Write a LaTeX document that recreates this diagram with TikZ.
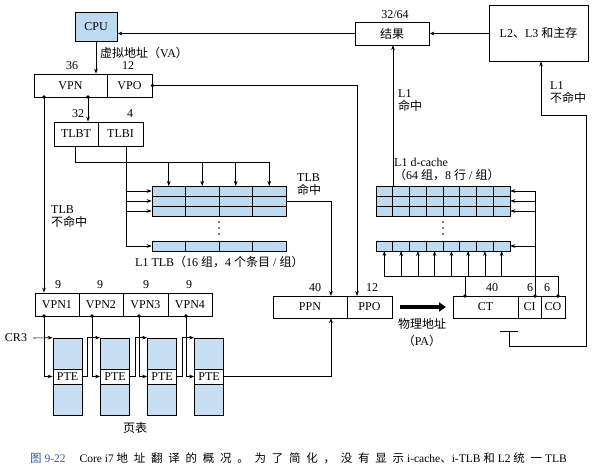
\documentclass[tikz,border=0pt]{standalone}
\usepackage{fontspec}
\setmainfont{Liberation Serif}
\newfontfamily\cjk{Noto Sans CJK SC}
\newfontfamily\cjkcap[LetterSpace=50]{Noto Sans CJK SC}
\newcommand\zh[1]{{\cjk #1}}
\newcommand\zc[1]{{\cjkcap #1}}
\usetikzlibrary{arrows.meta}
\definecolor{cellblue}{RGB}{190,218,240}
\definecolor{ptblue}{RGB}{200,222,242}
\definecolor{capblue}{RGB}{50,90,160}
\begin{document}
\begin{tikzpicture}[x=1pt,y=-1pt,
  font=\fontsize{12}{14}\selectfont,
  box/.style={draw, line width=0.9pt, inner sep=0pt, minimum height=23},
  lbl/.style={inner sep=0pt},
  conn/.style={line width=0.6pt},
  arr/.style={conn, -{Stealth[length=5pt,width=3.6pt]}},
  dotn/.style={circle, fill, inner sep=0pt, minimum size=3.8pt},
  cellrow/.style={draw, line width=0.7pt, fill=cellblue, inner sep=0pt, minimum width=134, minimum height=10},
  ptcol/.style={draw, line width=0.7pt, fill=ptblue, inner sep=0pt, minimum width=29, minimum height=77},
  ptebox/.style={draw, line width=0.7pt, fill=white, inner sep=0pt, minimum width=29, minimum height=15}
]
\useasboundingbox (0,0) rectangle (608,473);

% ---- top boxes
\node[box, fill=cellblue, minimum width=42, minimum height=29] (cpu) at (96,26.5) {CPU};
\node[box, minimum width=74] (res) at (392,33.5) {\zh{结果}};
\node[box, minimum width=99, minimum height=56] (l2) at (538.5,33) {L2\zh{、}L3 \zh{和主存}};
\node[lbl] (n3264) at (395,15) {32/64};

% ---- VPN / VPO
\node[box, minimum width=73] (vpn) at (70.5,85.5) {VPN};
\node[box, minimum width=45] (vpo) at (129.5,85.5) {VPO};
\node[lbl] (n36) at (72,66) {36};
\node[lbl] (n12a) at (128,66) {12};
\node[lbl, anchor=west] (va) at (100,53) {\zh{虚拟地址（}VA\zh{）}};

% ---- TLBT / TLBI
\node[box, minimum width=44, minimum height=24] (tlbt) at (76,134) {TLBT};
\node[box, minimum width=45, minimum height=24] (tlbi) at (120.5,134) {TLBI};
\node[lbl] (n32) at (78,114) {32};
\node[lbl] (n4) at (130,114) {4};

% ---- TLB array
\node[cellrow] (t1) at (219,191) {};
\node[cellrow] (t2) at (219,201) {};
\node[cellrow] (t3) at (219,211) {};
\node[cellrow] (t4) at (219,246) {};
\foreach \x in {185.5,219,252.5} {
  \draw[line width=0.7pt] (\x,186) -- (\x,216);
  \draw[line width=0.7pt] (\x,241) -- (\x,251);
}
\foreach \y in {222,228,234} \fill (219,\y) circle (0.9);
\node[lbl, anchor=west] (tlbcap) at (135,262) {L1 TLB\zh{（}16 \zh{组，}4 \zh{个条目} / \zh{组）}};
\node[lbl, anchor=west, align=left] (tlbhit) at (297,185) {TLB\\[-1pt]\zh{命中}};
\node[lbl, anchor=west, align=left] (tlbmiss) at (51,217) {TLB\\[-1pt]\zh{不命中}};

% ---- d-cache array
\node[cellrow] (c1) at (443,191) {};
\node[cellrow] (c2) at (443,201) {};
\node[cellrow] (c3) at (443,211) {};
\node[cellrow] (c4) at (443,246) {};
\foreach \k in {1,...,7} {
  \draw[line width=0.7pt] (376+16.75*\k,186) -- (376+16.75*\k,216);
  \draw[line width=0.7pt] (376+16.75*\k,241) -- (376+16.75*\k,251);
}
\foreach \y in {222,228,234} \fill (443,\y) circle (0.9);
\node[lbl, anchor=west, align=left] (dcap) at (394,169) {L1 d-cache\\[-1pt]\zh{（}64 \zh{组，}8 \zh{行} / \zh{组）}};
\node[lbl, anchor=west, align=left] (l1hit) at (398,101) {L1\\[-1pt]\zh{命中}};
\node[lbl, anchor=west, align=left] (l1miss) at (550,93) {L1\\[-1pt]\zh{不命中}};

% ---- VPN1..4
\node[box, minimum width=44] (vpn1) at (57,304.5) {VPN1};
\node[box, minimum width=44] (vpn2) at (101,304.5) {VPN2};
\node[box, minimum width=45] (vpn3) at (145.5,304.5) {VPN3};
\node[box, minimum width=44] (vpn4) at (190,304.5) {VPN4};
\node[lbl] (n9a) at (58,285) {9};
\node[lbl] (n9b) at (100,285) {9};
\node[lbl] (n9c) at (146,285) {9};
\node[lbl] (n9d) at (189,285) {9};

% ---- PPN / PPO
\node[box, minimum width=74, minimum height=22] (ppn) at (310,307) {PPN};
\node[box, minimum width=45, minimum height=22] (ppo) at (369.5,307) {PPO};
\node[lbl] (n40a) at (315,288) {40};
\node[lbl] (n12b) at (372,288) {12};

% ---- CT / CI / CO
\node[box, minimum width=65, minimum height=22] (ct) at (485.5,307) {CT};
\node[box, minimum width=23, minimum height=22] (ci) at (529.5,307) {CI};
\node[box, minimum width=24, minimum height=22] (co) at (553,307) {CO};
\node[lbl] (n40b) at (492,288) {40};
\node[lbl] (n6a) at (530,288) {6};
\node[lbl] (n6b) at (547,288) {6};

% ---- physical address arrow
\coordinate (pa1) at (400,307);
\coordinate (pa2) at (446,307);
\draw[line width=4pt, -{Triangle[length=7pt,width=9pt]}] (pa1) -- (pa2);
\node[lbl] (pa) at (422,324) {\zh{物理地址}};
\node[lbl] (pa2t) at (422,341) {\zh{（}PA\zh{）}};

% ---- page tables
\foreach \i/\x in {1/67.5,2/115,3/162,4/209} {
  \node[ptcol] (col\i) at (\x,376.5) {};
  \node[ptebox] (pte\i) at (\x,376.5) {PTE};
}
\node[lbl] (cr3) at (16,338) {CR3};
\node[lbl] (pgt) at (135,428) {\zh{页表}};

% ---- caption
\node[lbl, anchor=west, font=\fontsize{11.5}{12}\selectfont] (cap) at (30,458)
  {\textcolor{capblue}{\zc{图} 9-22}\hspace{14pt}Core i7 \zc{地址翻译的概况。为了简化，没有显示} i-cache\zc{、}i-TLB \zc{和} L2 \zc{统一} TLB};

% ================= connectors
\draw[arr] (res.west) -- (res.west -| cpu.east);
\draw[arr] (l2.west |- res.east) -- (res.east);
\draw[arr] (cpu.south) -- (cpu.south |- vpn.north);

% VPO to PPO
\coordinate (ppoin) at (357,296);
\node[dotn] (dvpo) at (vpo.east) {};
\draw[arr] (dvpo.center) -| (ppoin);

% VPN dots
\node[dotn] (dv1) at (44,97) {};
\node[dotn] (dv2) at (88,97) {};
\draw[arr] (dv1.center) -- (dv1.center |- vpn1.north);
\draw[arr] (dv2.center) -- (dv2.center |- tlbt.north);

% TLBT to TLB tags
\coordinate (tt1) at (75,146);
\coordinate (tt2) at (75,162);
\draw[conn] (tt1) -- (tt2) -- (269.25,162);
\foreach \x in {168.75,202.25,235.75,269.25}
  \draw[arr] (\x,162) -- (\x,186);

% TLBI to TLB sets
\coordinate (ti1) at (126,146);
\draw[conn] (ti1) -- (126,246);
\draw[arr] (126,191) -- (t1.west);
\draw[arr] (126,201) -- (t2.west);
\draw[arr] (126,211) -- (t3.west);
\draw[arr] (126,246) -- (t4.west);

% TLB hit to PPN
\coordinate (ppnin) at (331,296);
\draw[arr] (t2.east) -| (ppnin);

% L1 hit
\draw[arr] (c1.north -| 393,0) -- (393,45);

% CI to d-cache sets
\node[dotn] (dci) at (535,296) {};
\draw[conn] (dci.center) -- (535,191);
\draw[arr] (535,191) -- (c1.east);
\draw[arr] (535,201) -- (c2.east);
\draw[arr] (535,211) -- (c3.east);
\draw[arr] (535,246) -- (c4.east);

% CT / CO to comparators
\node[dotn] (dct) at (465,296) {};
\node[dotn] (dco) at (558,296) {};
\draw[conn] (dct.center) -- (465,276);
\draw[conn] (dco.center) -- (558,276) -- (384.4,276);
\foreach \k in {0,...,7}
  \draw[arr] (384.4+16.75*\k,276) -- (384.4+16.75*\k,251);

% L1 miss
\coordinate (tb1) at (500,331);
\coordinate (tb2) at (518,331);
\draw[conn] (tb1) -- (tb2);
\draw[arr] (509,331) -- (509,346) -- (586,346) -- (586,115) -- (541,115) -- (l2.south -| 541,0);

% page table walk
\draw[arr] (cr3.east) ++(6,0) -- (col1.north west);
\foreach \i/\x in {1/44,2/92,3/139,4/186} {
  \node[dotn] (dp\i) at (\x,316) {};
  \draw[arr] (dp\i.center) |- (pte\i.west);
}
\foreach \i/\j in {1/2,2/3,3/4} {
  \draw[arr] (pte\i.east) -- ++(5,0) |- (col\j.north west);
}
\coordinate (ppnbot) at (331,318);
\draw[arr] (pte4.east) -| (ppnbot);
\end{tikzpicture}
\end{document}
